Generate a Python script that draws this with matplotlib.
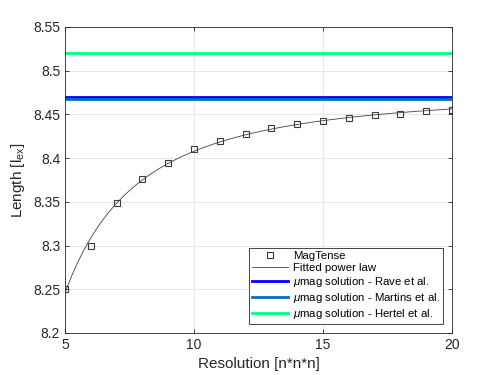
import matplotlib
matplotlib.use("Agg")
import matplotlib.pyplot as plt
import numpy as np

plt.rcParams["font.family"] = ["Liberation Sans", "DejaVu Sans"]
plt.rcParams["mathtext.fontset"] = "custom"
plt.rcParams["mathtext.it"] = "Liberation Sans:italic"
plt.rcParams["mathtext.rm"] = "Liberation Sans"

# MagTense results
resolution = [5, 6, 7, 8, 9, 10, 11, 12, 13, 14, 15, 16, 17, 18, 19, 20]
length = [8.250, 8.300, 8.349, 8.376, 8.395, 8.410, 8.420, 8.428,
          8.434, 8.439, 8.443, 8.446, 8.449, 8.451, 8.4535, 8.455]

# reference solutions
rave = 8.470
martins = 8.4675
hertel = 8.520

x = np.array(resolution, dtype=float)
y = np.array(length)

# fit y = a - b * x^-c  (grid search on c, linear least squares for a, b)
best = None
for c in np.linspace(0.3, 5, 941):
    A = np.column_stack([np.ones_like(x), -x ** -c])
    coef, res, _, _ = np.linalg.lstsq(A, y, rcond=None)
    err = np.sum((A @ coef - y) ** 2)
    if best is None or err < best[0]:
        best = (err, coef, c)
_, (a, b), c = best
xf = np.linspace(5, 20, 300)
yf = a - b * xf ** -c

fig = plt.figure(figsize=(5, 3.75), dpi=100)
ax = fig.add_axes([0.13, 0.112, 0.774, 0.816])

ax.plot(x, y, "s", mfc="none", mec="#3a3a3a", ms=4.5, mew=0.8, label="MagTense")
ax.plot(xf, yf, "-", color="#404040", lw=0.6, label="Fitted power law")
ax.plot([5, 20], [rave, rave], color="#0000ff", lw=2,
        label=r"$\mu$mag solution - Rave et al.")
ax.plot([5, 20], [martins, martins], color="#0072bd", lw=2,
        label=r"$\mu$mag solution - Martins et al.")
ax.plot([5, 20], [hertel, hertel], color="#00ff7f", lw=2,
        label=r"$\mu$mag solution - Hertel et al.")

ax.set_xlim(5, 20)
ax.set_ylim(8.2, 8.55)
ax.set_xticks([5, 10, 15, 20])
yt = [8.2, 8.25, 8.3, 8.35, 8.4, 8.45, 8.5, 8.55]
ax.set_yticks(yt)
ax.set_yticklabels(["%g" % v for v in yt])
ax.grid(True, color="#e6e6e6", lw=0.7)
ax.set_axisbelow(True)
for s in ax.spines.values():
    s.set_color("#262626")
    s.set_linewidth(0.6)
ax.tick_params(direction="in", length=3, width=0.6, color="#262626",
               labelsize=10, labelcolor="#262626", top=True, right=True)
ax.set_xlabel("Resolution [n*n*n]", fontsize=11, color="#262626")
ax.set_ylabel(r"Length [l$_{\rm ex}$]", fontsize=11, color="#262626")

leg = ax.legend(loc="lower right", fontsize=8.2, handlelength=3.2,
                fancybox=False, framealpha=1, edgecolor="#262626",
                borderpad=0.25, labelspacing=0.18, handletextpad=0.4,
                borderaxespad=0.8, markerscale=0.85)
leg.get_frame().set_linewidth(0.6)

fig.savefig("out.png", dpi=100)
